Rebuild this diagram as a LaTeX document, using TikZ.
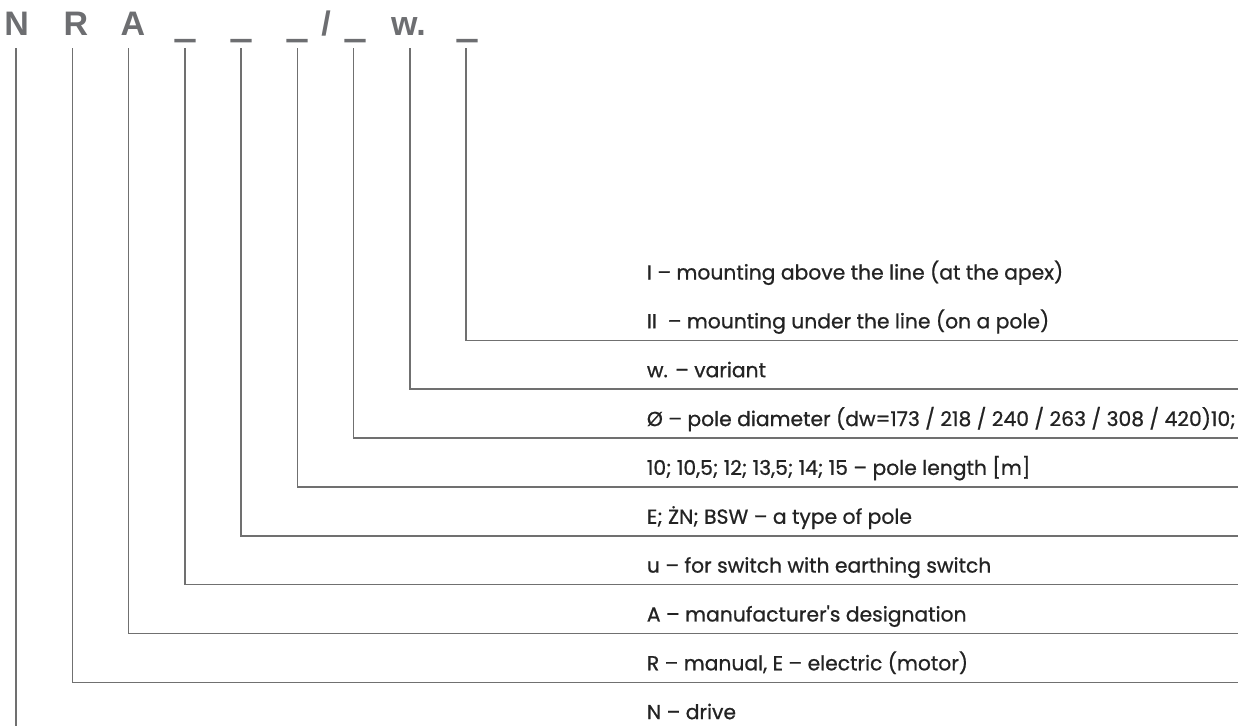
\documentclass[tikz,border=0pt]{standalone}
\usepackage{fontspec}
\setmainfont{Poppins}[FakeBold=0.8]
\newfontfamily\codefont{Liberation Sans}
\newfontfamily\blankfont{Liberation Sans}[FakeBold=4]
\usetikzlibrary{positioning}
\definecolor{codegray}{HTML}{6D6E71}
\definecolor{linegray}{HTML}{707070}
\definecolor{textdark}{HTML}{232323}
\tikzset{
  code/.style={font=\codefont\bfseries\fontsize{34}{34}\selectfont, text=codegray,
    inner sep=0pt, anchor=base},
  blank/.style={code, font=\blankfont\fontsize{34}{34}\selectfont},
  desc/.style={font=\fontsize{20.3}{20.3}\selectfont, text=textdark,
    inner sep=0pt, anchor=base west},
  lead/.style={draw=linegray, line width=1.5pt},
}

\begin{document}
\begin{tikzpicture}[x=1pt,y=-1pt]
  \useasboundingbox (0,0) rectangle (1246,726);
  % the code letters
  \foreach \n/\x/\c in {0/16.7/N, 1/76/R, 2/133/A, 6/326/{/}, 8/408.5/w.}
    \node[code] (c\n) at (\x,35) {\c};
  \foreach \n/\x in {3/185, 4/241, 5/297, 7/355, 9/467}
    \node[blank] (c\n) at (\x,35) {\_};
  % leader lines
  \coordinate (t0) at (16,48);
  \coordinate (e0) at (16,726);
  \draw[lead] (t0) -- (e0);
  \foreach \i in {1,...,8} {
    \pgfmathsetmacro\tx{16+56.25*\i}
    \pgfmathsetmacro\ty{682.3-48.85*(\i-1)}
    \coordinate (t\i) at (\tx,48);
    \coordinate (e\i) at (1238,\ty);
    \draw[lead] (t\i) |- (e\i);
  }
  % descriptions
  \foreach \i/\t in {0/{N – drive},
      1/{R – manual, E – electric (motor)},
      2/{A – manufacturer\textquotesingle s designation},
      3/{u – for switch with earthing switch},
      4/{E; ŻN; BSW – a type of pole},
      5/{10; 10,5; 12; 13,5; 14; 15 – pole length [m]},
      6/{Ø – pole diameter (dw=173 / 218 / 240 / 263 / 308 / 420)10;},
      7/{w. – variant},
      8/{II\ \ – mounting under the line (on a pole)},
      9/{I – mounting above the line (at the apex)}} {
    \pgfmathsetmacro\ty{682.3-48.85*(\i-1)-12}
    \node[desc] (d\i) at (646.7,\ty) {\t};
  }
\end{tikzpicture}
\end{document}
